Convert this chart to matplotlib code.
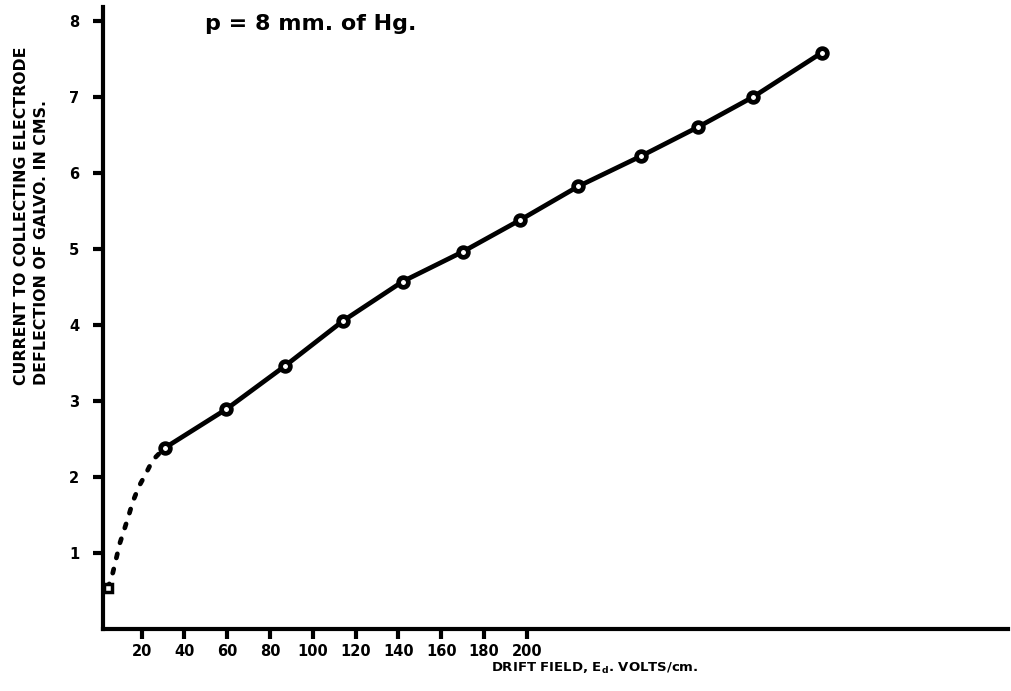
"""
漂移场 vs 收集电极电流 (p = 8 mm Hg)
"""
import matplotlib
matplotlib.use("Agg")
import matplotlib.pyplot as plt

matplotlib.rcParams["font.family"] = ["DejaVu Sans"]
matplotlib.rcParams["font.weight"] = "bold"
matplotlib.rcParams["mathtext.default"] = "bf"

# measured points (solid line)
FIELD = [30.7, 59.5, 87.0, 114.0, 142.0, 170.0, 197.0, 224.0, 253.5, 280.0, 306.0, 338.0]
DEFLECTION = [2.38, 2.89, 3.46, 4.05, 4.57, 4.96, 5.38, 5.82, 6.22, 6.60, 7.00, 7.58]

# extrapolated low-field part (dotted)
LOW_FIELD = [4.2, 6.5, 9.8, 12.1, 14.0, 15.8, 18.6, 21.9, 25.1, 30.7]
LOW_DEFLECTION = [0.54, 0.74, 1.13, 1.33, 1.50, 1.67, 1.87, 2.04, 2.22, 2.38]

X_TICKS = [20, 40, 60, 80, 100, 120, 140, 160, 180, 200]
Y_TICKS = [1, 2, 3, 4, 5, 6, 7, 8]

W, H = 1011, 691


def main():
    fig = plt.figure(figsize=(W / 100, H / 100), dpi=100)
    ax = fig.add_axes([103 / W, 62 / H, (1008 - 103) / W, (629 - 7) / H])

    ax.plot(LOW_FIELD, LOW_DEFLECTION, color="black", linewidth=3.4,
            linestyle=(0, (0.9, 2.4)), dash_capstyle="round")
    ax.plot(FIELD, DEFLECTION, color="black", linewidth=3.4,
            marker="o", markersize=7, markerfacecolor="white",
            markeredgecolor="black", markeredgewidth=3.4)
    ax.plot(LOW_FIELD[0], LOW_DEFLECTION[0], marker="s", markersize=6,
            markerfacecolor="white", markeredgecolor="black", markeredgewidth=2.5)

    ax.set_xlim(1.9, 425)
    ax.set_ylim(0, 8.18)
    ax.set_xticks(X_TICKS)
    ax.set_yticks(Y_TICKS)
    ax.tick_params(axis="both", direction="out", length=7, width=3, labelsize=10.5)
    ax.tick_params(axis="x", pad=4)
    ax.tick_params(axis="y", pad=10)
    for lab in ax.get_xticklabels() + ax.get_yticklabels():
        lab.set_fontweight("bold")

    for side in ["top", "right"]:
        ax.spines[side].set_visible(False)
    for side in ["left", "bottom"]:
        ax.spines[side].set_linewidth(3)

    fig.text(205 / W, 1 - 24 / H, "p = 8 mm. of Hg.", fontsize=16,
             fontweight="bold", ha="left", va="center")
    fig.text(22 / W, 1 - 385 / H, "CURRENT TO COLLECTING ELECTRODE",
             rotation=90, fontsize=11.3, fontweight="bold", ha="center", va="bottom")
    fig.text(42 / W, 1 - 385 / H, "DEFLECTION OF GALVO. IN CMS.",
             rotation=90, fontsize=11.3, fontweight="bold", ha="center", va="bottom")
    fig.text(595 / W, 1 - 668 / H, "DRIFT FIELD, E$_d$. VOLTS/cm.",
             fontsize=9.5, fontweight="bold", ha="center", va="center")

    fig.savefig("out.png", dpi=100)


if __name__ == "__main__":
    main()
